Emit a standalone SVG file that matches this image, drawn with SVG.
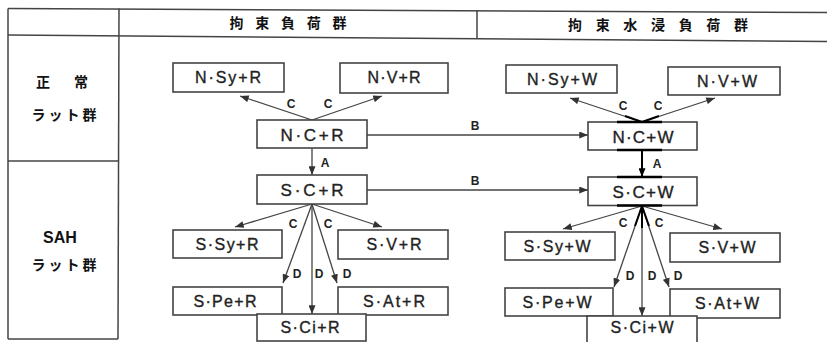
<svg xmlns="http://www.w3.org/2000/svg" width="827" height="342" viewBox="0 0 827 342">
<defs>
<marker id="ah" viewBox="0 0 10 8" refX="10" refY="4" markerWidth="9" markerHeight="7" markerUnits="userSpaceOnUse" orient="auto">
<path d="M0,0 L10,4 L0,8 Z" fill="#333"/>
</marker>
<marker id="ahb" viewBox="0 0 10 8" refX="10" refY="4" markerWidth="9" markerHeight="7" markerUnits="userSpaceOnUse" orient="auto">
<path d="M0,0 L10,4 L0,8 Z" fill="#000"/>
</marker>
</defs>
<style>
.tbl{stroke:#444;stroke-width:1.5;fill:none}
.box{fill:#fff;stroke:#444;stroke-width:1.6}
.lbl{font-family:"Liberation Sans",Arial,sans-serif;font-size:16px;fill:#222;stroke:#222;stroke-width:0.35;text-anchor:middle}
.big{font-size:17px}
.cl{font-family:"Liberation Sans",Arial,sans-serif;font-size:12px;font-weight:bold;fill:#222;text-anchor:middle}
.hd{font-family:"Noto Sans CJK JP","Noto Sans CJK SC",sans-serif;font-size:14px;font-weight:bold;fill:#111;text-anchor:middle}
.rw{font-family:"Noto Sans CJK JP","Noto Sans CJK SC",sans-serif;font-size:14px;font-weight:bold;fill:#111;text-anchor:middle}
.sah{font-family:"Liberation Sans",Arial,sans-serif;font-size:16px;font-weight:bold;fill:#111;text-anchor:middle}
.cn{stroke:#444;stroke-width:1.3;fill:none}
.cb{stroke:#000;stroke-width:2;fill:none}
.hv{stroke:#000;stroke-width:2.6;fill:none}
</style>
<rect width="827" height="342" fill="#fff"/>
<g id="table">
<line class="tbl" x1="8" y1="8.5" x2="827" y2="12.5"/>
<line class="tbl" x1="8" y1="35" x2="827" y2="41.5"/>
<line class="tbl" x1="8" y1="8.5" x2="8" y2="339"/>
<line class="tbl" x1="119" y1="8.5" x2="118" y2="339"/>
<line class="tbl" x1="477" y1="10.5" x2="477" y2="38"/>
<line class="tbl" x1="8" y1="161" x2="118.5" y2="161"/>
<line class="tbl" x1="8" y1="339" x2="118" y2="339"/>
<text class="hd" x="288" y="28" textLength="117" lengthAdjust="spacing">拘束負荷群</text>
<text class="hd" x="658" y="30" textLength="180" lengthAdjust="spacing">拘束水浸負荷群</text>
<text class="rw" x="62" y="87" textLength="52" lengthAdjust="spacing">正常</text>
<text class="rw" x="64" y="120" textLength="65" lengthAdjust="spacing">ラット群</text>
<text class="sah" x="60" y="243">SAH</text>
<text class="rw" x="64" y="270" textLength="65" lengthAdjust="spacing">ラット群</text>
</g>
<g id="connectors">
<line class="cn" x1="312" y1="120" x2="240" y2="96" marker-end="url(#ah)"/>
<line class="cn" x1="312" y1="120" x2="382" y2="96" marker-end="url(#ah)"/>
<line class="cn" x1="312" y1="148" x2="312" y2="175" marker-end="url(#ah)"/>
<line class="cn" x1="367" y1="135" x2="588" y2="135" marker-end="url(#ah)"/>
<line class="cn" x1="367" y1="190" x2="588" y2="190" marker-end="url(#ah)"/>
<line class="cn" x1="312" y1="204" x2="235" y2="227" marker-end="url(#ah)"/>
<line class="cn" x1="312" y1="204" x2="382" y2="227" marker-end="url(#ah)"/>
<line class="cn" x1="312" y1="204" x2="283" y2="283" marker-end="url(#ah)"/>
<line class="cn" x1="312" y1="204" x2="312" y2="314" marker-end="url(#ah)"/>
<line class="cn" x1="312" y1="204" x2="337" y2="283" marker-end="url(#ah)"/>
<line class="cn" x1="642" y1="122" x2="570" y2="98" marker-end="url(#ah)"/>
<line class="cn" x1="642" y1="122" x2="715" y2="98" marker-end="url(#ah)"/>
<line class="cb" x1="642" y1="150" x2="642" y2="177" marker-end="url(#ahb)"/>
<line class="cn" x1="642" y1="206" x2="563" y2="229" marker-end="url(#ah)"/>
<line class="cn" x1="642" y1="206" x2="722" y2="229" marker-end="url(#ah)"/>
<line class="cn" x1="642" y1="206" x2="614" y2="287" marker-end="url(#ah)"/>
<line class="cn" x1="642" y1="206" x2="642" y2="316" marker-end="url(#ah)"/>
<line class="cn" x1="642" y1="206" x2="669" y2="287" marker-end="url(#ah)"/>
<line class="cb" x1="642" y1="206" x2="635" y2="226"/>
<line class="cb" x1="642" y1="206" x2="642" y2="228"/>
<line class="cb" x1="642" y1="206" x2="649" y2="226"/>
<line class="cb" x1="642" y1="122" x2="625" y2="116"/>
<line class="cb" x1="642" y1="122" x2="659" y2="116"/>
<text class="cl" x="291" y="108">C</text>
<text class="cl" x="328" y="108">C</text>
<text class="cl" x="325" y="167">A</text>
<text class="cl" x="475" y="130">B</text>
<text class="cl" x="475" y="185">B</text>
<text class="cl" x="293" y="228">C</text>
<text class="cl" x="328" y="228">C</text>
<text class="cl" x="297" y="278">D</text>
<text class="cl" x="319" y="278">D</text>
<text class="cl" x="347" y="278">D</text>
<text class="cl" x="623" y="110">C</text>
<text class="cl" x="658" y="110">C</text>
<text class="cl" x="657" y="168">A</text>
<text class="cl" x="623" y="227">C</text>
<text class="cl" x="659" y="227">C</text>
<text class="cl" x="630" y="280">D</text>
<text class="cl" x="652" y="280">D</text>
<text class="cl" x="678" y="280">D</text>
</g>
<g id="n-sy-r"><rect class="box" x="173" y="63" width="111" height="29"/><text class="lbl" x="228" y="83" textLength="66" lengthAdjust="spacing">N·Sy+R</text></g>
<g id="n-v-r"><rect class="box" x="340" y="63" width="108" height="30"/><text class="lbl" x="394" y="83" textLength="53" lengthAdjust="spacing">N·V+R</text></g>
<g id="n-c-r"><rect class="box" x="257" y="120" width="110" height="28"/><text class="lbl big" x="312" y="141" textLength="63" lengthAdjust="spacing">N·C+R</text></g>
<g id="s-c-r"><rect class="box" x="257" y="175" width="110" height="29"/><text class="lbl big" x="312" y="196" textLength="63" lengthAdjust="spacing">S·C+R</text></g>
<g id="s-sy-r"><rect class="box" x="173" y="230" width="109" height="28"/><text class="lbl" x="227" y="250" textLength="63" lengthAdjust="spacing">S·Sy+R</text></g>
<g id="s-v-r"><rect class="box" x="338" y="230" width="110" height="29"/><text class="lbl" x="394" y="250" textLength="55" lengthAdjust="spacing">S·V+R</text></g>
<g id="s-pe-r"><rect class="box" x="173" y="287" width="109" height="28"/><text class="lbl" x="225" y="307" textLength="63" lengthAdjust="spacing">S·Pe+R</text></g>
<g id="s-at-r"><rect class="box" x="338" y="287" width="110" height="28"/><text class="lbl" x="394" y="307" textLength="62" lengthAdjust="spacing">S·At+R</text></g>
<g id="s-ci-r"><rect class="box" x="257" y="314" width="109" height="27"/><text class="lbl" x="310" y="333" textLength="59" lengthAdjust="spacing">S·Ci+R</text></g>
<g id="n-sy-w"><rect class="box" x="506" y="65" width="111" height="28"/><text class="lbl" x="562" y="85" textLength="70" lengthAdjust="spacing">N·Sy+W</text></g>
<g id="n-v-w"><rect class="box" x="668" y="67" width="112" height="28"/><text class="lbl" x="727" y="87" textLength="60" lengthAdjust="spacing">N·V+W</text></g>
<g id="n-c-w"><rect class="box" x="588" y="122" width="109" height="28"/><text class="lbl big" x="643" y="143" textLength="61" lengthAdjust="spacing">N·C+W</text></g>
<g id="s-c-w"><rect class="box" x="588" y="177" width="109" height="28.5"/><text class="lbl big" x="643" y="198" textLength="61" lengthAdjust="spacing">S·C+W</text></g>
<g id="s-sy-w"><rect class="box" x="505" y="232" width="110" height="28"/><text class="lbl" x="557" y="252" textLength="67" lengthAdjust="spacing">S·Sy+W</text></g>
<g id="s-v-w"><rect class="box" x="670" y="233" width="110" height="29"/><text class="lbl" x="727" y="253" textLength="57" lengthAdjust="spacing">S·V+W</text></g>
<g id="s-pe-w"><rect class="box" x="505" y="288" width="108" height="28"/><text class="lbl" x="557" y="308" textLength="69" lengthAdjust="spacing">S·Pe+W</text></g>
<g id="s-at-w"><rect class="box" x="670" y="289" width="110" height="29"/><text class="lbl" x="727" y="309" textLength="64" lengthAdjust="spacing">S·At+W</text></g>
<g id="s-ci-w"><rect class="box" x="587" y="316" width="110" height="30"/><text class="lbl" x="642" y="333" textLength="63" lengthAdjust="spacing">S·Ci+W</text></g>
<g id="heavy-marks">
<line class="hv" x1="617" y1="122" x2="662" y2="122"/>
<line class="hv" x1="617" y1="150" x2="662" y2="150"/>
<line class="hv" x1="617" y1="177" x2="662" y2="177"/>
<line class="hv" x1="617" y1="205.5" x2="662" y2="205.5"/>
</g>
</svg>
